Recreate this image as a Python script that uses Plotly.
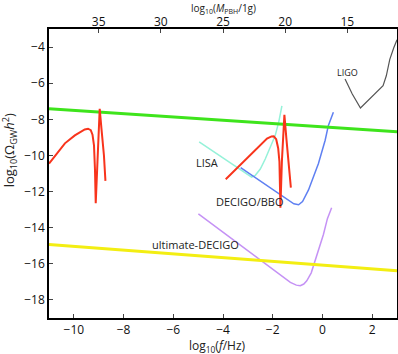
import plotly.graph_objects as go

# log10(f/Hz) vs log10(Omega_GW h^2)
green_f = [-11.0, 3.0]
green_y = [-7.42, -8.69]

yellow_f = [-11.0, 3.0]
yellow_y = [-14.93, -16.39]

red1_f = [-11.0, -10.89, -10.76, -10.36, -9.96, -9.56, -9.43, -9.32, -9.25, -9.19,
          -9.15, -9.12, -9.05, -8.96, -8.89, -8.79, -8.73]
red1_y = [-10.45, -10.26, -9.99, -9.33, -8.89, -8.56, -8.52, -8.6, -8.85, -9.44,
          -10.8, -12.64, -10.35, -7.42, -8.52, -9.99, -11.41]

red2_f = [-3.89, -3.5, -3.3, -3.03, -2.63, -2.23, -2.05, -1.96, -1.86, -1.78,
          -1.73, -1.69, -1.63, -1.53, -1.45, -1.36, -1.27]
red2_y = [-11.32, -10.78, -10.5, -10.17, -9.62, -9.07, -8.95, -8.94, -9.1, -9.6,
          -10.35, -12.9, -10.3, -7.75, -9.07, -10.4, -11.78]

lisa_f = [-4.96, -4.0, -3.4, -3.0, -2.85, -2.7, -2.5, -2.3, -2.1, -1.9, -1.75, -1.63]
lisa_y = [-9.25, -10.15, -10.7, -11.1, -11.2, -11.1, -10.75, -10.2, -9.55, -8.9, -8.1, -7.25]

decigo_f = [-3.29, -2.5, -1.76, -1.4, -1.15, -0.96, -0.8, -0.56, -0.16, 0.11, 0.24, 0.44]
decigo_y = [-10.68, -11.42, -12.12, -12.45, -12.68, -12.73, -12.55, -11.91, -10.44, -9.16, -8.34, -7.61]

udecigo_f = [-4.99, -3.5, -2.0, -1.29, -1.05, -0.89, -0.75, -0.63, -0.45, -0.29, 0.04, 0.2, 0.37]
udecigo_y = [-13.23, -14.75, -16.3, -17.03, -17.18, -17.21, -17.12, -16.94, -16.5, -15.84, -14.38, -13.5, -12.9]

ligo_f = [0.91, 1.2, 1.53, 1.97, 2.44, 2.57, 2.71, 2.87, 3.0]
ligo_y = [-5.77, -6.6, -7.37, -6.78, -6.14, -5.59, -4.68, -4.04, -3.6]

x_ticks = [-10, -8, -6, -4, -2, 0, 2]
y_ticks = [-4, -6, -8, -10, -12, -14, -16, -18]
mass_ticks = [35, 30, 25, 20, 15]

labels = [
    ("LIGO", 1.0, -5.43, 9),
    ("LISA", -4.64, -10.37, 11),
    ("DECIGO/BBO", -2.92, -12.57, 11),
    ("ultimate-DECIGO", -5.1, -14.93, 11),
]

FONT = "Open Sans, DejaVu Sans, Arial, sans-serif"

fig = go.Figure()


def add_line(xs, ys, color, width):
    fig.add_trace(go.Scatter(x=xs, y=ys, mode="lines",
                             line=dict(color=color, width=width),
                             showlegend=False, hoverinfo="skip"))


add_line(lisa_f, lisa_y, "#95f2d9", 1.5)
add_line(decigo_f, decigo_y, "#5f80f2", 1.5)
add_line(udecigo_f, udecigo_y, "#c592f5", 1.5)
add_line(ligo_f, ligo_y, "#555555", 1.2)
add_line(green_f, green_y, "#3ee41c", 3)
add_line(yellow_f, yellow_y, "#f3ee12", 3)
add_line(red1_f, red1_y, "#f8341c", 2)
add_line(red2_f, red2_y, "#f8341c", 2)

# invisible trace for the top (mass) axis
fig.add_trace(go.Scatter(x=[39, 11], y=[-19, -19], xaxis="x2", mode="markers",
                         marker=dict(opacity=0), showlegend=False, hoverinfo="skip"))

annotations = []
for text, x, y, size in labels:
    annotations.append(dict(x=x, y=y, text=text, showarrow=False,
                            font=dict(size=size, color="#222", family=FONT)))

annotations += [
    dict(text="log<sub>10</sub>(<i>f</i>/Hz)", xref="paper", yref="paper",
         x=0.485, y=-0.098, xanchor="center", yanchor="middle", showarrow=False,
         font=dict(size=12, color="#222", family=FONT)),
    dict(text="log<sub>10</sub>(<i>M</i><sub>PBH</sub>/1g)", xref="paper", yref="paper",
         x=0.5, y=1.071, xanchor="center", yanchor="middle", showarrow=False,
         font=dict(size=10, color="#222", family=FONT)),
    dict(text="log<sub>10</sub>(Ω<sub>GW</sub><i>h</i><sup>2</sup>)", xref="paper", yref="paper",
         x=-0.115, y=0.58, xanchor="center", yanchor="middle", showarrow=False,
         textangle=-90, font=dict(size=13, color="#222", family=FONT)),
]

fig.update_layout(
    width=398, height=354,
    margin=dict(l=49, r=1, t=29, b=36, autoexpand=False),
    paper_bgcolor="white",
    plot_bgcolor="white",
    font=dict(family=FONT, size=12, color="#111"),
    xaxis=dict(range=[-11, 3], tickvals=x_ticks, ticks="inside", ticklen=4,
               showline=True, linecolor="black", linewidth=1.5, mirror=True,
               showgrid=False, zeroline=False, automargin=False),
    xaxis2=dict(range=[39, 11], overlaying="x", side="top", tickvals=mass_ticks,
                ticks="inside", ticklen=4, showline=False, showgrid=False,
                zeroline=False, automargin=False),
    yaxis=dict(range=[-19, -3], tickvals=y_ticks, ticks="inside", ticklen=4,
               showline=True, linecolor="black", linewidth=1.5, mirror=True,
               showgrid=False, zeroline=False, automargin=False),
    annotations=annotations,
)

fig.write_html("out.html", config={"displayModeBar": False},
               post_script="document.body.style.margin='0';")
